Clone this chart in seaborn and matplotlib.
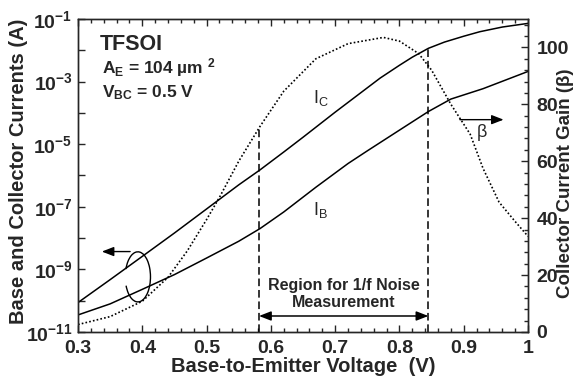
import numpy as np
import matplotlib
matplotlib.use('Agg')
import matplotlib.pyplot as plt
from matplotlib.ticker import MultipleLocator, FixedLocator, NullLocator, FuncFormatter
from matplotlib.patches import Arc
import seaborn as sns

# Collector current I_C (A) vs base-emitter voltage (V)
vbe_ic = [0.30, 0.35, 0.40, 0.45, 0.50, 0.55, 0.583, 0.62, 0.65, 0.70, 0.75,
          0.77, 0.80, 0.82, 0.845, 0.87, 0.90, 0.925, 0.96, 1.00]
ic = [8.7e-11, 4.7e-10, 2.6e-9, 1.45e-8, 8.5e-8, 5.0e-7, 1.5e-6, 5.6e-6, 1.66e-5, 1.05e-4, 6.3e-4,
      1.29e-3, 3.3e-3, 6.0e-3, 1.15e-2, 1.82e-2, 2.8e-2, 3.9e-2, 5.5e-2, 7.2e-2]

# Base current I_B (A)
vbe_ib = [0.30, 0.35, 0.40, 0.45, 0.50, 0.55, 0.583, 0.62, 0.67, 0.72,
          0.75, 0.80, 0.845, 0.88, 0.93, 1.00]
ib = [3.5e-11, 7.9e-11, 2.3e-10, 6.8e-10, 2.3e-9, 7.9e-9, 2.0e-8, 6.8e-8, 4.2e-7, 2.4e-6,
      6.1e-6, 2.8e-5, 1.1e-4, 2.75e-4, 5.9e-4, 2.1e-3]

# Current gain beta
vbe_beta = [0.30, 0.35, 0.40, 0.44, 0.47, 0.50, 0.52, 0.55, 0.583, 0.62, 0.67,
            0.72, 0.775, 0.80, 0.83, 0.85, 0.88, 0.91, 0.93, 0.955, 0.98, 1.00]
beta = [2.6, 5.4, 10.8, 19.2, 28.5, 39.5, 47.3, 60.0, 72.2, 84.6, 96.0,
        101.3, 103.5, 102.2, 97.8, 92.0, 80.0, 69.5, 57.5, 45.6, 38.8, 33.6]

# region used for the 1/f noise measurement
noise_region = [0.5815, 0.845]

sns.set_style('ticks')
plt.rcParams['font.family'] = ['Liberation Sans', 'DejaVu Sans']
plt.rcParams['font.weight'] = 'bold'
plt.rcParams['mathtext.default'] = 'regular'
plt.rcParams['axes.linewidth'] = 1.0

fig = plt.figure(figsize=(5.88, 3.86), dpi=100)
ax = fig.add_axes([0.1327, 0.140, 0.7653, 0.811])

sns.lineplot(x=vbe_ic, y=ic, ax=ax, color='k', lw=1.1)
sns.lineplot(x=vbe_ib, y=ib, ax=ax, color='k', lw=1.1)
ax.set_yscale('log')
ax.set_xlim(0.3, 1.0)
ax.set_ylim(1e-11, 1e-1)

ax.xaxis.set_major_locator(MultipleLocator(0.1))
ax.xaxis.set_minor_locator(MultipleLocator(0.02))
ax.xaxis.set_major_formatter(FuncFormatter(lambda v, p: '1' if abs(v - 1) < 1e-6 else '%.1f' % v))
ax.yaxis.set_major_locator(FixedLocator([10.0 ** e for e in range(-11, 0)]))
ax.yaxis.set_minor_locator(NullLocator())
ax.yaxis.set_major_formatter(FuncFormatter(
    lambda v, p: '$10^{%d}$' % round(np.log10(v)) if round(np.log10(v)) % 2 else ''))
ax.tick_params(axis='x', which='both', top=True, direction='in', labelsize=14, pad=6)
ax.tick_params(axis='y', which='both', right=False, direction='in', labelsize=14, pad=4)
ax.tick_params(which='major', length=5, width=1)
ax.tick_params(which='minor', length=3, width=1)
for lab in ax.get_yticklabels():
    lab.set_verticalalignment('center_baseline')

ax.set_xlabel('Base-to-Emitter Voltage  (V)', fontsize=14.5, fontweight='bold')
ax.set_ylabel('Base and Collector Currents (A)', fontsize=14.5, fontweight='bold')
ax.xaxis.set_label_coords(0.5, -0.08)
ax.yaxis.set_label_coords(-0.111, 0.514)

# right axis: current gain
ax2 = ax.twinx()
sns.lineplot(x=vbe_beta, y=beta, ax=ax2, color='k', lw=1.2, linestyle=(0, (1, 1.3)))
ax2.set_ylim(0, 110)
ax2.yaxis.set_major_locator(MultipleLocator(20))
ax2.yaxis.set_minor_locator(MultipleLocator(4))
ax2.yaxis.set_major_formatter(FuncFormatter(lambda v, p: '%d' % v if v <= 100 else ''))
ax2.tick_params(axis='y', which='both', direction='in', labelsize=14, pad=6)
ax2.tick_params(which='major', length=5, width=1)
ax2.tick_params(which='minor', length=3, width=1)
ax2.set_ylabel('Collector Current Gain (β)', fontsize=13.5, fontweight='bold')
ax2.yaxis.set_label_coords(1.064, 0.475)

# dashed bounds of the noise region
lo, hi = noise_region
ax2.plot([lo, lo], [0, np.interp(lo, vbe_beta, beta)], color='k', lw=1.1, ls=(0, (5, 2.5)))
ic_hi = 10 ** np.interp(hi, vbe_ic, np.log10(ic))
ax.plot([hi, hi], [1e-11, ic_hi], color='k', lw=1.1, ls=(0, (5, 2.5)))

xt = ax.get_xaxis_transform()
ax.annotate('', xy=(lo, 0.051), xytext=(hi, 0.051), xycoords=xt, textcoords=xt,
            arrowprops=dict(arrowstyle='<|-|>,head_length=0.9,head_width=0.35',
                            mutation_scale=8, lw=1.1, color='k', shrinkA=0, shrinkB=0))
ax.text((lo + hi) / 2, 0.121, 'Region for 1/f Noise\nMeasurement', transform=xt,
        ha='center', va='center', fontsize=11.5, fontweight='bold', linespacing=1.1)

# labels and arrows
ax.text(0.049, 0.901, 'TFSOI', transform=ax.transAxes, fontsize=15.5, fontweight='bold')
ax.text(0.053, 0.827, '$A_E$ = 104 µm $^2$', transform=ax.transAxes, fontsize=12.5,
        fontweight='bold')
ax.text(0.053, 0.751, '$V_{BC}$ = 0.5 V', transform=ax.transAxes, fontsize=12.5,
        fontweight='bold')
ax.text(0.522, 0.730, '$I_C$', transform=ax.transAxes, fontsize=13, fontweight='normal')
ax.text(0.522, 0.374, '$I_B$', transform=ax.transAxes, fontsize=13, fontweight='normal')
ax.text(0.897, 0.637, 'β', transform=ax.transAxes, fontsize=13, fontweight='normal',
        ha='center', va='center')

ax2.annotate('', xy=(0.962, 74.6), xytext=(0.894, 74.6),
             arrowprops=dict(arrowstyle='-|>,head_length=0.9,head_width=0.35',
                             mutation_scale=8, lw=1.0, color='k', shrinkA=0, shrinkB=0))
ax.annotate('', xy=(0.337, 3.7e-9), xytext=(0.381, 3.7e-9),
            arrowprops=dict(arrowstyle='-|>,head_length=0.9,head_width=0.35',
                            mutation_scale=8, lw=1.0, color='k', shrinkA=0, shrinkB=0))
ax.add_patch(Arc((0.133, 0.176), 0.056, 0.16, theta1=-133, theta2=137,
                 transform=ax.transAxes, color='k', lw=1.0))

fig.savefig('out.png', dpi=100)
